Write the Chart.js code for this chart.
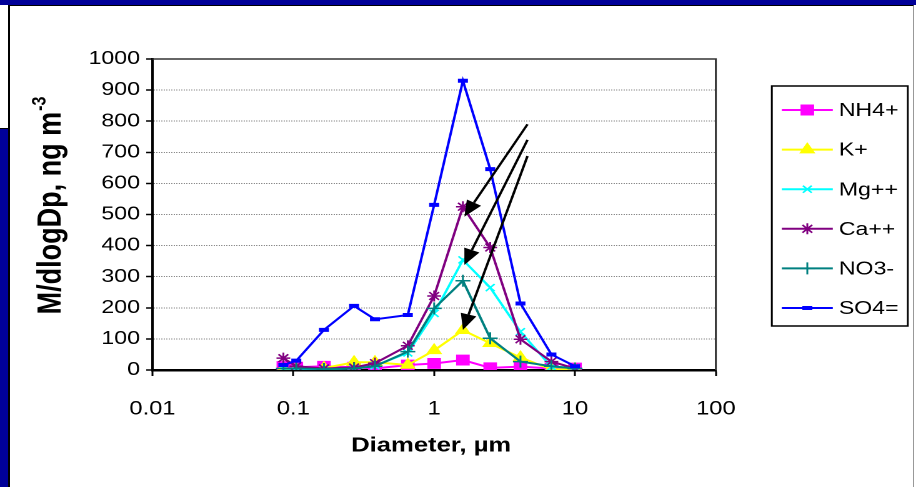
<!DOCTYPE html>
<html>
<head>
<meta charset="utf-8">
<script src="https://cdn.jsdelivr.net/npm/chart.js"></script>
<style>
  body { margin: 0; width: 916px; height: 487px; background: #fff; position: relative; overflow: hidden; }
  #topBand { position: absolute; left: 0; top: 0; width: 916px; height: 5px; background: #000099; }
  #leftStrip { position: absolute; left: 0; top: 128px; width: 8px; height: 359px; background: #000099; border-top: 1px solid #000; }
  #panel { position: absolute; left: 8px; top: 5px; width: 903px; height: 482px; border-left: 2px solid #000; border-top: 1px solid #000; border-right: 1px solid #999; }
  /* the original picture is stretched sideways, so draw narrower and scale in x */
  #wrap { position: absolute; left: 0; top: 0; width: 733px; height: 487px; transform-origin: 0 0; transform: scaleX(1.2497); }
</style>
</head>
<body>
<div id="topBand"></div>
<div id="leftStrip"></div>
<div id="panel"></div>
<div id="wrap"><canvas id="chart" width="733" height="487"></canvas></div>
<script>
// Particle diameters (um) and concentrations per ion
const diameters = [0.085, 0.105, 0.165, 0.27, 0.38, 0.65, 1.0, 1.6, 2.5, 4.1, 6.8, 10];
const nh4 = [11, 9, 12, 9, 5, 16, 21, 32, 7, 11, 5, 6];
const kPlus = [3, 3, 6, 25, 25, 16, 63, 128, 86, 40, 2, 2];
const mg = [4, 3, 3, 5, 14, 55, 182, 354, 265, 123, 10, 8];
const ca = [38, 12, 5, 8, 22, 78, 238, 525, 394, 99, 27, 5];
const no3 = [5, 5, 3, 5, 12, 59, 198, 287, 102, 27, 12, 5];
const so4 = [16, 30, 129, 206, 163, 177, 531, 930, 646, 214, 50, 12];

const seriesNames = ['NH4+', 'K+', 'Mg++', 'Ca++', 'NO3-', 'SO4='];
const xTickValues = [0.01, 0.1, 1, 10, 100];
const xTickLabels = ['0.01', '0.1', '1', '10', '100'];

// arrows: [diameter, value] from -> to
const arrowFrom = [[4.6, 790], [4.6, 740], [4.6, 688]];
const arrowTo = [[1.64, 493], [1.64, 338], [1.6, 129]];

function toPoints(values) {
    return values.map((v, i) => ({ x: diameters[i], y: v }));
}

const styles = [
    { color: '#FF00FF', point: 'rect', radius: 7, bw: 1 },
    { color: '#FFFF00', point: 'triangle', radius: 6.5, bw: 1 },
    { color: '#00FFFF', point: 'crossRot', radius: 5, bw: 1.5 },
    { color: '#800080', point: 'star', radius: 5.5, bw: 1.5 },
    { color: '#008080', point: 'cross', radius: 6, bw: 1.5 },
    { color: '#0000FF', point: 'line', radius: 4, bw: 4 }
];

const allValues = [nh4, kPlus, mg, ca, no3, so4];

const datasets = allValues.map((vals, i) => ({
    label: seriesNames[i],
    data: toPoints(vals),
    borderColor: styles[i].color,
    backgroundColor: styles[i].color,
    borderWidth: 2,
    pointStyle: styles[i].point,
    pointRadius: styles[i].radius,
    pointBorderWidth: styles[i].bw,
    pointBackgroundColor: styles[i].color,
    pointBorderColor: styles[i].color,
    tension: 0,
    fill: false,
    order: 6 - i
}));

const FONT = 'Arial, "Liberation Sans", sans-serif';

// Frame, titles, arrows and legend
const decorations = {
    id: 'decorations',
    afterDatasetsDraw(chart) {
        const ctx = chart.ctx;
        const xs = chart.scales.x, ys = chart.scales.y;
        const area = chart.chartArea;

        ctx.save();
        // plot area frame (top / right)
        ctx.strokeStyle = '#333';
        ctx.lineWidth = 1.5;
        ctx.beginPath();
        ctx.moveTo(area.left, area.top);
        ctx.lineTo(area.right, area.top);
        ctx.lineTo(area.right, area.bottom);
        ctx.stroke();

        // arrows
        ctx.strokeStyle = '#000';
        ctx.fillStyle = '#000';
        ctx.lineWidth = 2;
        for (let i = 0; i < arrowFrom.length; i++) {
            const x1 = xs.getPixelForValue(arrowFrom[i][0]);
            const y1 = ys.getPixelForValue(arrowFrom[i][1]);
            const x2 = xs.getPixelForValue(arrowTo[i][0]);
            const y2 = ys.getPixelForValue(arrowTo[i][1]);
            const ang = Math.atan2(y2 - y1, x2 - x1);
            const headLen = 16, headW = 6.5;
            const bx = x2 - headLen * Math.cos(ang), by = y2 - headLen * Math.sin(ang);
            ctx.beginPath();
            ctx.moveTo(x1, y1);
            ctx.lineTo(bx, by);
            ctx.stroke();
            ctx.beginPath();
            ctx.moveTo(x2, y2);
            ctx.lineTo(bx + headW * Math.sin(ang), by - headW * Math.cos(ang));
            ctx.lineTo(bx - headW * Math.sin(ang), by + headW * Math.cos(ang));
            ctx.closePath();
            ctx.fill();
        }

        // y axis title with superscript
        ctx.fillStyle = '#000';
        ctx.translate(38.5, 206);
        ctx.rotate(-Math.PI / 2);
        ctx.font = 'bold 27px ' + FONT;
        const main = 'M/dlogDp, ng m';
        const wMain = ctx.measureText(main).width;
        ctx.font = 'bold 16px ' + FONT;
        const sup = '-3';
        const wSup = ctx.measureText(sup).width;
        const start = -(wMain + wSup) / 2;
        ctx.textBaseline = 'alphabetic';
        ctx.textAlign = 'left';
        ctx.font = 'bold 27px ' + FONT;
        ctx.fillText(main, start, 10);
        ctx.font = 'bold 16px ' + FONT;
        ctx.fillText(sup, start + wMain + 1, -2);
        ctx.restore();

        // x axis title
        ctx.save();
        ctx.fillStyle = '#000';
        ctx.font = 'bold 20.5px ' + FONT;
        ctx.textAlign = 'center';
        ctx.textBaseline = 'middle';
        ctx.fillText('Diameter, \u00b5m', 345, 446);
        ctx.restore();

        // legend box
        ctx.save();
        const lx = 617.6, ly = 86, lw = 108.8, lh = 240;
        ctx.strokeStyle = '#000';
        ctx.lineWidth = 1.5;
        ctx.strokeRect(lx, ly, lw, lh);
        chart.data.datasets.forEach((ds, i) => {
            const cy = 110 + i * 39.6;
            ctx.strokeStyle = ds.borderColor;
            ctx.lineWidth = 2;
            ctx.beginPath();
            ctx.moveTo(625.6, cy);
            ctx.lineTo(666.4, cy);
            ctx.stroke();
            ctx.fillStyle = ds.pointBackgroundColor;
            ctx.strokeStyle = ds.pointBorderColor;
            ctx.lineWidth = ds.pointBorderWidth;
            Chart.helpers.drawPoint(ctx, {
                pointStyle: ds.pointStyle,
                radius: ds.pointRadius,
                rotation: 0,
                borderWidth: ds.pointBorderWidth
            }, 646, cy);
            ctx.fillStyle = '#000';
            ctx.font = '18.5px ' + FONT;
            ctx.textAlign = 'left';
            ctx.textBaseline = 'middle';
            ctx.fillText(ds.label, 671.2, cy + 1);
        });
        ctx.restore();
    }
};

new Chart(document.getElementById('chart'), {
    type: 'line',
    data: { datasets: datasets },
    options: {
        responsive: false,
        animation: false,
        devicePixelRatio: 2,
        layout: { padding: { left: 62, right: 160.2, top: 59, bottom: 17 } },
        plugins: {
            legend: { display: false },
            tooltip: { enabled: false }
        },
        scales: {
            x: {
                type: 'logarithmic',
                min: 0.01,
                max: 100,
                afterBuildTicks: scale => {
                    scale.ticks = xTickValues.map(v => ({ value: v }));
                },
                afterFit: scale => { scale.height = 100; },
                ticks: {
                    autoSkip: false,
                    maxRotation: 0,
                    padding: 22,
                    color: '#000',
                    font: { family: FONT, size: 19 },
                    callback: (value) => {
                        const idx = xTickValues.indexOf(value);
                        return idx >= 0 ? xTickLabels[idx] : '';
                    }
                },
                grid: { drawOnChartArea: false, drawTicks: true, tickLength: 6, color: '#000', tickWidth: 1.5 },
                border: { color: '#000', width: 2.5 }
            },
            y: {
                min: 0,
                max: 1000,
                afterFit: scale => { scale.width = 60; },
                ticks: {
                    stepSize: 100,
                    padding: 5,
                    color: '#000',
                    font: { family: FONT, size: 18.5 },
                    callback: value => String(value)
                },
                grid: { color: '#8a8a8a', lineWidth: 1, tickLength: 5, tickColor: '#000', tickWidth: 1.5 },
                border: { color: '#000', width: 2, dash: [1, 1] }
            }
        }
    },
    plugins: [decorations]
});
</script>
</body>
</html>
